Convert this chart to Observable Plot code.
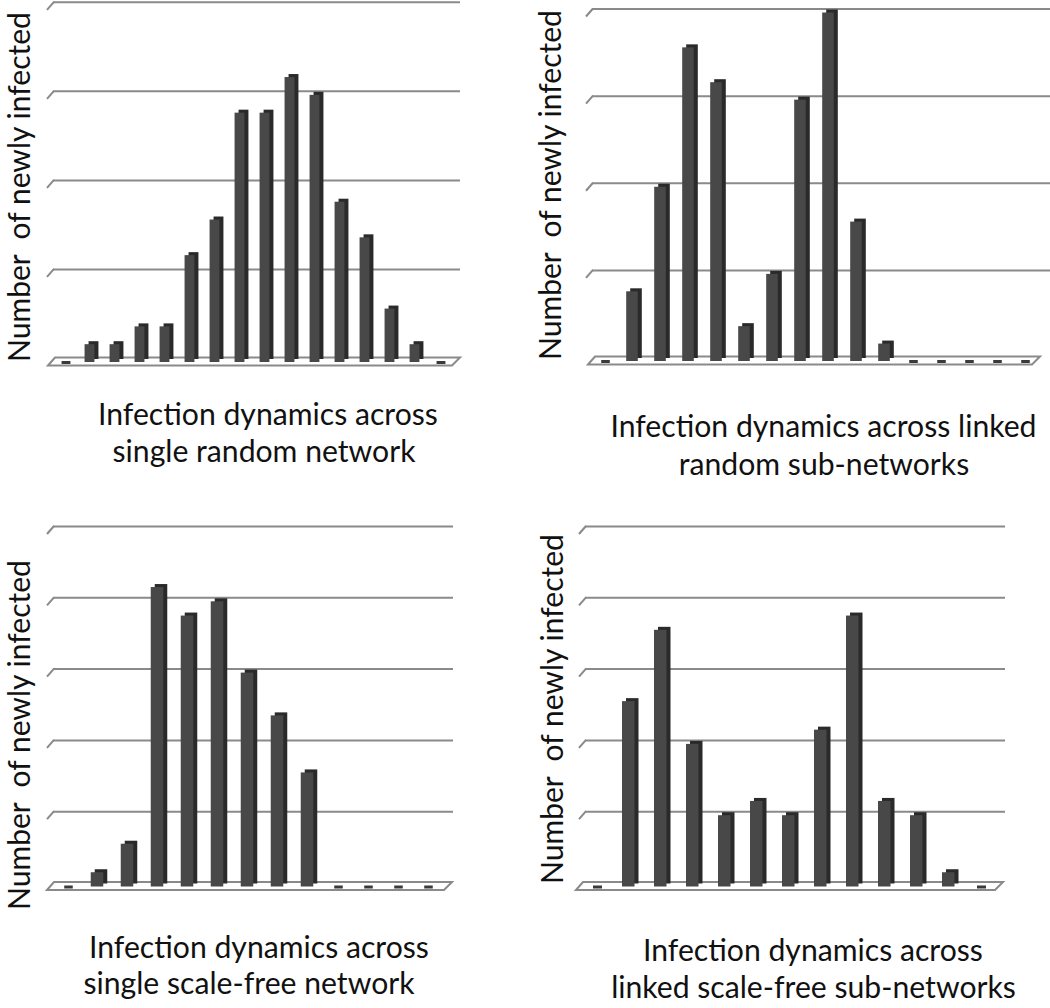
<!DOCTYPE html>
<html>
<head>
<meta charset="utf-8">
<script src="https://cdn.jsdelivr.net/npm/d3@7"></script>
<script src="https://cdn.jsdelivr.net/npm/@observablehq/plot@0.6"></script>
<style>
html,body{margin:0;padding:0;background:#fff;}
#root{position:relative;width:1050px;height:1008px;overflow:hidden;background:#fff;}
.panel{position:absolute;}
.panel svg{overflow:visible;}
#overlay{position:absolute;left:0;top:0;}
</style>
</head>
<body>
<div id="root"></div>
<script>
// ---- data ----
const steps16 = [1,2,3,4,5,6,7,8,9,10,11,12,13,14,15,16];
const steps13 = [1,2,3,4,5,6,7,8,9,10,11,12,13];
const randomSingle    = [0,2,2,4,4,12,16,28,28,32,30,18,14,6,2,0];
const randomLinked    = [0,8,20,36,32,4,10,30,40,16,2,0,0,0,0,0];
const scaleFreeSingle = [0,2,6,42,38,40,30,24,16,0,0,0,0];
const scaleFreeLinked = [0,26,36,20,10,12,10,22,38,12,10,2,0];
const gridTicks40 = [10,20,30,40];
const gridTicks50 = [10,20,30,40,50];
const yLabel = "Number  of newly infected";
const titleRandomSingle    = ["Infection dynamics across", "single random network"];
const titleRandomLinked    = ["Infection dynamics across linked", "random sub-networks"];
const titleScaleFreeSingle = ["Infection dynamics across", "single scale-free network"];
const titleScaleFreeLinked = ["Infection dynamics across", "linked scale-free sub-networks"];

const root = document.getElementById("root");
const gridStroke = "#8a8a8a";
const GRID_DY = -4;

function bar3d(cfg) {
  const data = cfg.steps.map((s, i) => ({step: s, value: cfg.values[i]}));
  const nz = data.filter(d => d.value > 0);
  const zr = data.filter(d => d.value === 0);
  const bw = (cfg.width - cfg.ml - cfg.mr) / cfg.steps.length;
  const iL = bw / 2 - cfg.fl, iR = bw / 2 - cfg.fr;
  const stubs = (index, scales) => {
    const g = d3.create("svg:g").attr("stroke", gridStroke).attr("stroke-width", 2).attr("fill", "none");
    for (const t of cfg.ticks) {
      const y = scales.y(t) + GRID_DY;
      g.append("path").attr("d", `M${cfg.gl + 1},${y} L${cfg.gl - 6},${y + 8}`);
    }
    return g.node();
  };
  const floor = (index, scales) => {
    const y0 = scales.y(0);
    return d3.create("svg:path")
      .attr("d", `M${cfg.fL},${y0 + 3.5} L${cfg.fL + 7},${y0 - 4.5} L${cfg.fR},${y0 - 4.5} L${cfg.fR - 8},${y0 + 3.5} Z`)
      .attr("fill", "#fff").attr("stroke", gridStroke).attr("stroke-width", 2).node();
  };
  const chart = Plot.plot({
    width: cfg.width, height: cfg.height,
    marginTop: cfg.mt, marginBottom: cfg.mb, marginLeft: cfg.ml, marginRight: cfg.mr,
    style: {background: "transparent", overflow: "visible"},
    x: {type: "band", domain: cfg.steps, padding: 0, axis: null},
    y: {domain: [0, cfg.yMax], axis: null},
    marks: [
      Plot.ruleY(cfg.ticks, {stroke: gridStroke, strokeWidth: 2, dy: GRID_DY,
        insetLeft: cfg.gl - cfg.ml, insetRight: (cfg.width - cfg.mr) - cfg.gr}),
      stubs,
      floor,
      Plot.barY(nz, {x: "step", y: "value", fill: "#2a2a2a", insetLeft: iL, insetRight: iR, dx: 4, dy: -3}),
      Plot.barY(nz, {x: "step", y: "value", fill: "#484848", insetLeft: iL, insetRight: iR}),
      Plot.tickY(zr, {x: "step", y: "value", stroke: "#3a3a3a", strokeWidth: 3, insetLeft: bw / 2 - 5, insetRight: bw / 2 - 4})
    ]
  });
  const div = document.createElement("div");
  div.className = "panel";
  div.style.left = cfg.left + "px";
  div.style.top = cfg.top + "px";
  div.appendChild(chart);
  root.appendChild(div);
}

bar3d({steps: steps16, values: randomSingle, left: 0, top: 0, width: 470, height: 380,
  mt: 5.8, mb: 18, ml: 52.6, mr: 15.3, yMax: 40, ticks: gridTicks40,
  gl: 53, gr: 460, fL: 48, fR: 460, fl: 7, fr: 3});
bar3d({steps: steps16, values: randomLinked, left: 540, top: 0, width: 510, height: 380,
  mt: 12.5, mb: 19, ml: 48.5, mr: 7.1, yMax: 40, ticks: gridTicks40,
  gl: 52, gr: 512, fL: 48, fR: 500, fl: 8, fr: 4});
bar3d({steps: steps13, values: scaleFreeSingle, left: 0, top: 520, width: 470, height: 380,
  mt: 10, mb: 13.5, ml: 51.1, mr: 22.7, yMax: 50, ticks: gridTicks50,
  gl: 53, gr: 453, fL: 47, fR: 452, fl: 8.5, fr: 4.5});
bar3d({steps: steps13, values: scaleFreeLinked, left: 540, top: 520, width: 510, height: 380,
  mt: 10, mb: 13.5, ml: 41.7, mr: 52.3, yMax: 50, ticks: gridTicks50,
  gl: 45, gr: 465, fL: 36, fR: 463, fl: 8, fr: 4.5});

// ---- text overlay ----
const FAMILY = "Lato, 'Open Sans', sans-serif";
const ctx = document.createElement("canvas").getContext("2d");
function fitSize(text, target) {
  ctx.font = `100px ${FAMILY}`;
  return 100 * target / ctx.measureText(text).width;
}
const titleSize = fitSize("Infection dynamics across", 340);
const labelSize = fitSize(yLabel, 352);

const svg = d3.create("svg").attr("id", "overlay").attr("width", 1050).attr("height", 1008)
  .attr("font-family", FAMILY).attr("fill", "#111");
const titles = [
  {lines: titleRandomSingle, pos: [[268, 425], [264, 462]]},
  {lines: titleRandomLinked, pos: [[823.5, 437], [824, 475]]},
  {lines: titleScaleFreeSingle, pos: [[259, 958], [249, 994]]},
  {lines: titleScaleFreeLinked, pos: [[813, 961], [813.5, 998]]}
];
for (const t of titles) {
  t.lines.forEach((line, i) => {
    svg.append("text").attr("x", t.pos[i][0]).attr("y", t.pos[i][1])
      .attr("text-anchor", "middle").attr("font-size", titleSize).style("white-space", "pre").text(line);
  });
}
const labelPos = [[30, 362], [561, 360], [30, 910], [563, 884]];
for (const [x, y] of labelPos) {
  svg.append("text").attr("transform", `translate(${x},${y}) rotate(-90)`)
    .attr("font-size", labelSize).style("white-space", "pre").text(yLabel);
}
root.appendChild(svg.node());
</script>
</body>
</html>
